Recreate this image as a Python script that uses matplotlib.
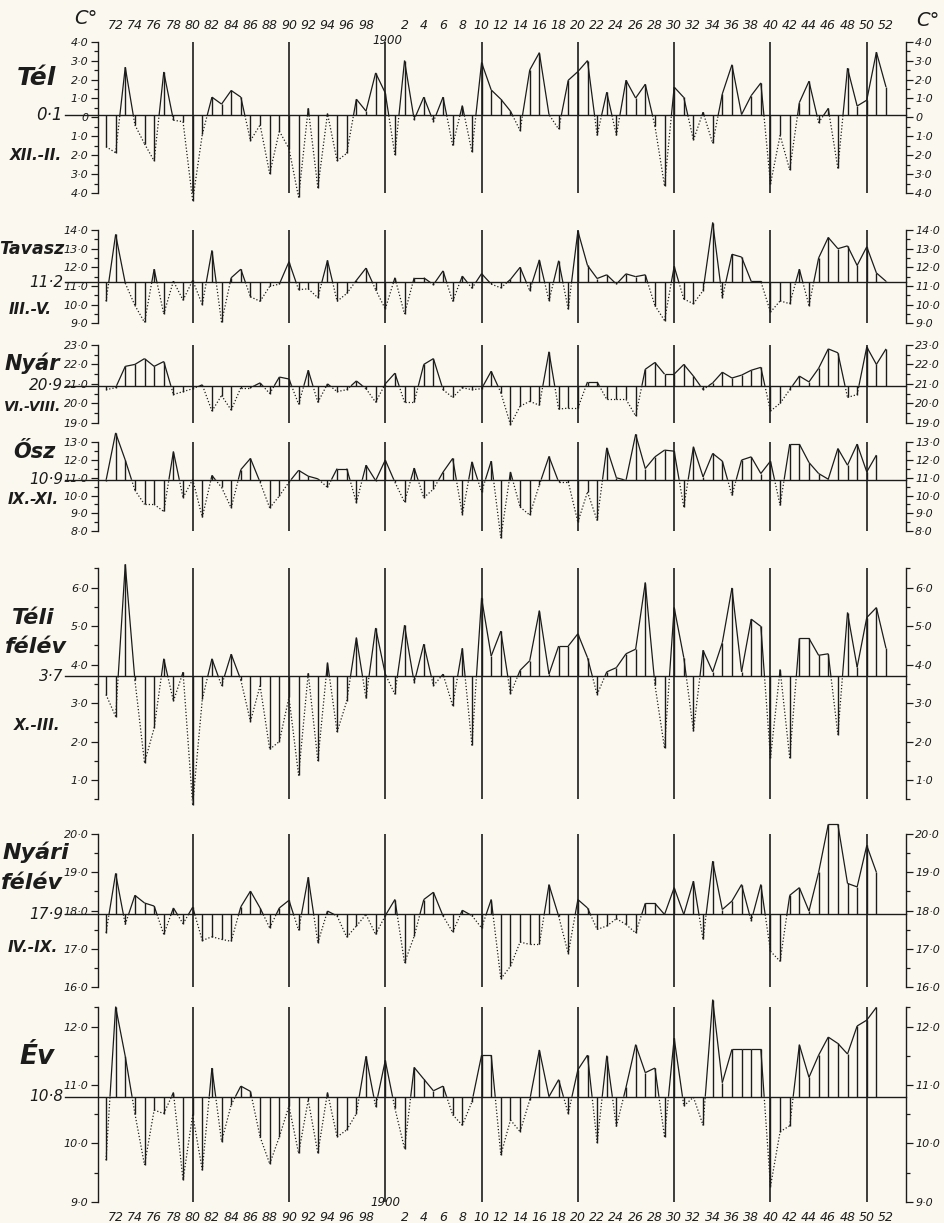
import matplotlib
matplotlib.use("Agg")
import matplotlib.pyplot as plt
from matplotlib.collections import LineCollection
from matplotlib.ticker import FixedLocator, FuncFormatter
import numpy as np

# ---------------- data ----------------
years_full = list(range(1871, 1953))      # 1871-1952
years_short = list(range(1871, 1952))     # 1871-1951

tel = [-1.55, -1.87, 2.65, -0.4, -1.4, -2.3, 2.4, -0.15, -0.23, -4.4,
       -0.9, 1.07, 0.7, 1.42, 1.07, -1.23, -0.4, -2.98, -0.73, -1.65,
       -4.23, 0.47, -3.73, 0.2, -2.3, -1.9, 0.96, 0.33, 2.35, 1.29,
       -1.98, 3.0, -0.12, 1.07, -0.23, 1.07, -1.48, 0.62, -1.82, 2.9,
       1.45, 0.96, 0.33, -0.7, 2.5, 3.42, 0.15, -0.62, 1.96, 2.42,
       3.0, -0.95, 1.33, -0.95, 1.96, 1.02, 1.75, -0.45, -3.62, 1.6,
       1.05, -1.2, 0.27, -1.37, 1.24, 2.78, 0.15, 1.15, 1.82, -3.53,
       -0.95, -2.78, 0.78, 1.91, -0.28, 0.47, -2.7, 2.6, 0.6, 0.91,
       3.45, 1.6]

tavasz = [10.18, 13.76, 11.15, 9.96, 9.05, 11.9, 9.5, 11.26, 10.24, 11.3,
          10.0, 12.9, 9.05, 11.44, 11.9, 10.42, 10.18, 10.98, 11.1, 12.3,
          10.8, 10.85, 10.37, 12.37, 10.18, 10.6, 11.3, 11.96, 10.8, 9.77,
          11.44, 9.5, 11.44, 11.44, 11.07, 11.81, 10.18, 11.53, 10.88, 11.66,
          11.1, 10.9, 11.35, 12.0, 10.75, 12.4, 10.2, 12.35, 9.75, 13.95,
          12.1, 11.4, 11.6, 11.1, 11.65, 11.5, 11.6, 9.95, 9.15, 12.05,
          10.3, 10.05, 10.75, 14.4, 10.35, 12.7, 12.55, 11.25, 11.25, 9.6,
          10.2, 10.05, 11.9, 9.95, 12.5, 13.6, 13.0, 13.15, 12.1, 13.1,
          11.7, 11.25]

nyar = [20.7, 20.8, 21.9, 22.0, 22.3, 21.9, 22.15, 20.45, 20.6, 20.75,
        20.95, 19.6, 20.4, 19.65, 20.8, 20.8, 21.05, 20.5, 21.35, 21.25,
        19.95, 21.7, 20.05, 21.0, 20.6, 20.7, 21.15, 20.75, 20.05, 21.0,
        21.55, 20.05, 20.05, 22.0, 22.3, 20.7, 20.3, 20.8, 20.7, 20.75,
        21.65, 20.55, 18.9, 19.85, 20.1, 19.9, 22.65, 19.7, 19.75, 19.75,
        21.1, 21.1, 20.2, 20.2, 20.2, 19.35, 21.75, 22.1, 21.5, 21.5,
        22.0, 21.4, 20.7, 21.05, 21.6, 21.3, 21.45, 21.7, 21.85, 19.6,
        20.0, 20.7, 21.4, 21.1, 21.8, 22.8, 22.6, 20.3, 20.45, 22.9,
        22.0, 22.8]

osz = [10.84, 13.53, 12.0, 10.3, 9.5, 9.5, 9.1, 12.48, 9.88, 10.9,
       8.77, 11.13, 10.46, 9.3, 11.46, 12.09, 10.75, 9.3, 9.98, 10.75,
       11.42, 11.09, 10.94, 10.46, 11.52, 11.52, 9.6, 11.71, 10.84, 12.0,
       10.75, 9.63, 11.55, 9.88, 10.36, 11.32, 12.09, 8.92, 11.9, 10.2,
       11.94, 7.6, 11.33, 9.35, 8.9, 10.6, 12.2, 10.77, 10.77, 8.5,
       10.2, 8.6, 12.69, 11.0, 10.86, 13.45, 11.52, 12.18, 12.56, 12.5,
       9.35, 12.75, 11.05, 12.37, 11.94, 10.01, 12.0, 12.18, 11.24, 11.94,
       9.45, 12.9, 12.9, 11.86, 11.24, 10.92, 12.65, 11.71, 12.9, 11.33,
       12.28]

teli_felev = [3.22, 2.65, 6.6, 3.6, 1.45, 2.35, 4.15, 3.05, 3.8, 0.35,
              3.1, 4.15, 3.45, 4.27, 3.6, 2.52, 3.45, 1.8, 2.0, 3.15,
              1.12, 3.77, 1.5, 4.05, 2.25, 3.05, 4.7, 3.12, 4.95, 3.75,
              3.23, 5.02, 3.53, 4.53, 3.45, 3.75, 2.93, 4.42, 1.9, 5.73,
              4.22, 4.87, 3.24, 3.85, 4.1, 5.4, 3.75, 4.48, 4.48, 4.8,
              4.18, 3.22, 3.81, 3.92, 4.28, 4.4, 6.13, 3.48, 1.83, 5.48,
              4.18, 2.27, 4.37, 3.81, 4.57, 5.99, 3.81, 5.18, 4.99, 1.57,
              3.87, 1.57, 4.68, 4.68, 4.24, 4.28, 2.18, 5.35, 3.93, 5.22,
              5.48, 4.42]

nyari_felev = [17.42, 18.97, 17.64, 18.4, 18.2, 18.12, 17.38, 18.07, 17.66, 18.09,
               17.22, 17.32, 17.25, 17.2, 18.1, 18.51, 18.07, 17.55, 18.07, 18.27,
               17.49, 18.87, 17.16, 17.99, 17.86, 17.31, 17.6, 17.9, 17.38, 17.87,
               18.29, 16.64, 17.33, 18.29, 18.48, 17.86, 17.44, 18.01, 17.87, 17.55,
               18.29, 16.22, 16.55, 17.18, 17.12, 17.12, 18.68, 17.86, 16.88, 18.29,
               18.07, 17.51, 17.6, 17.79, 17.64, 17.42, 18.19, 18.19, 17.9, 18.6,
               17.9, 18.77, 17.25, 19.29, 18.03, 18.25, 18.68, 17.73, 18.68, 16.94,
               16.68, 18.4, 18.6, 17.99, 19.0, 20.25, 20.25, 18.71, 18.62, 19.7,
               19.0]

ev = [9.71, 12.34, 11.49, 10.51, 9.63, 10.57, 10.51, 10.87, 9.37, 10.49,
      9.54, 11.29, 10.03, 10.66, 10.98, 10.89, 10.11, 9.65, 10.11, 10.64,
      9.83, 10.74, 9.83, 10.87, 10.11, 10.23, 10.51, 11.49, 10.63, 11.42,
      10.6, 9.91, 11.3, 11.1, 10.9, 10.98, 10.49, 10.31, 10.71, 11.51,
      11.51, 9.8, 10.4, 10.2, 10.74, 11.6, 10.8, 11.09, 10.51, 11.26,
      11.51, 10.01, 11.5, 10.29, 10.96, 11.69, 11.21, 11.29, 10.11, 11.8,
      10.64, 10.79, 10.31, 12.46, 11.04, 11.61, 11.61, 11.61, 11.61, 9.26,
      10.2, 10.3, 11.69, 11.13, 11.51, 11.82, 11.71, 11.53, 12.01, 12.11,
      12.33]

means = [0.1, 11.2, 20.9, 10.9, 3.7, 17.9, 10.8]
mean_labels = ["0·1", "11·2", "20·9", "10·9", "3·7", "17·9", "10·8"]
decades = [1880, 1890, 1900, 1910, 1920, 1930, 1940, 1950]
year_ticks = [1872, 1874, 1876, 1878, 1880, 1882, 1884, 1886, 1888, 1890,
              1892, 1894, 1896, 1898, 1902, 1904, 1906, 1908, 1910,
              1912, 1914, 1916, 1918, 1920, 1922, 1924, 1926, 1928, 1930,
              1932, 1934, 1936, 1938, 1940, 1942, 1944, 1946, 1948, 1950, 1952]
year_tick_labels = ["72", "74", "76", "78", "80", "82", "84", "86", "88", "90",
                    "92", "94", "96", "98", "2", "4", "6", "8", "10",
                    "12", "14", "16", "18", "20", "22", "24", "26", "28", "30",
                    "32", "34", "36", "38", "40", "42", "44", "46", "48", "50", "52"]

# ---------------- style ----------------
W, H = 944, 1223
BG = "#fbf9ef"
INK = "#1c1c1c"
plt.rcParams["font.family"] = ["DejaVu Sans"]

fig = plt.figure(figsize=(W / 100, H / 100), dpi=100, facecolor=BG)

X_LEFT, X_RIGHT = 97.7, 906.0
X0_PX, PX_PER_YEAR = 106.0, 9.63
xlim = (1871 - (X0_PX - X_LEFT) / PX_PER_YEAR, 1871 + (X_RIGHT - X0_PX) / PX_PER_YEAR)


def px_axes(top, bottom):
    return fig.add_axes([X_LEFT / W, 1 - bottom / H, (X_RIGHT - X_LEFT) / W, (bottom - top) / H])


def fmt(v, pos=None):
    if abs(v) < 1e-9:
        return "0"
    return f"{abs(v):.1f}".replace(".", "·")


# panel geometry: (series, years, top value, top px, bottom value, bottom px, major ticks)
panels = [
    (tel, years_full, 4.0, 41.7, -4.0, 193.0, [-4, -3, -2, -1, 0, 1, 2, 3, 4]),
    (tavasz, years_full, 14.0, 230.0, 9.0, 323.3, [9, 10, 11, 12, 13, 14]),
    (nyar, years_full, 23.0, 345.0, 19.0, 422.7, [19, 20, 21, 22, 23]),
    (osz, years_short, 13.0, 442.3, 8.0, 531.0, [8, 9, 10, 11, 12, 13]),
    (teli_felev, years_full, 6.5, 568.3, 0.5, 799.3, [1, 2, 3, 4, 5, 6]),
    (nyari_felev, years_short, 20.0, 834.0, 16.0, 987.3, [16, 17, 18, 19, 20]),
    (ev, years_short, 12.33, 1007.3, 9.0, 1201.7, [9, 10, 11, 12]),
]

axes = []
for i, (vals, yrs, tv, tp, bv, bp, majors) in enumerate(panels):
    ax = px_axes(tp, bp)
    ax.set_facecolor("none")
    ax.set_xlim(*xlim)
    ax.set_ylim(bv, tv)
    for s in ("top", "bottom"):
        ax.spines[s].set_visible(False)
    for s in ("left", "right"):
        ax.spines[s].set_color(INK)
        ax.spines[s].set_linewidth(1.0)
    ax.yaxis.set_major_locator(FixedLocator(majors))
    minors = [v for v in np.arange(np.floor(bv), np.ceil(tv) + 0.01, 0.5)
              if bv - 1e-6 <= v <= tv + 1e-6 and v not in majors]
    minors += [tv, bv]
    ax.yaxis.set_minor_locator(FixedLocator(sorted(set(minors))))
    ax.yaxis.set_major_formatter(FuncFormatter(fmt))
    ax.tick_params(axis="y", which="both", direction="out", left=True, right=True,
                   labelleft=True, labelright=True, colors=INK, width=0.9)
    ax.tick_params(axis="y", which="major", length=5, pad=1.5, labelsize=8)
    ax.tick_params(axis="y", which="minor", length=3)
    for lbl in ax.get_yticklabels():
        lbl.set_fontstyle("italic")
    ax.tick_params(axis="x", length=0, bottom=False, labelbottom=False)
    ax.set_xticks([])

    b = means[i]
    # decade lines
    for d in decades:
        ax.axvline(d, color=INK, lw=1.2, zorder=1)
    # baseline
    ax.plot([-0.04, 1.0], [b, b], color=INK, lw=1.0,
            transform=ax.get_yaxis_transform(), clip_on=False, zorder=2)

    x = np.array(yrs, dtype=float)
    y = np.array(vals, dtype=float)
    # stems
    ax.vlines(x, b, y, color=INK, lw=1.0, clip_on=False, zorder=3)
    # connecting polyline: solid above mean, dotted below
    solid, dotted = [], []
    for k in range(len(x) - 1):
        x0, y0, x1, y1 = x[k], y[k], x[k + 1], y[k + 1]
        a0, a1 = y0 >= b, y1 >= b
        if a0 == a1:
            (solid if a0 else dotted).append([(x0, y0), (x1, y1)])
        else:
            t = (b - y0) / (y1 - y0)
            xc = x0 + t * (x1 - x0)
            (solid if a0 else dotted).append([(x0, y0), (xc, b)])
            (solid if a1 else dotted).append([(xc, b), (x1, y1)])
    lc1 = LineCollection(solid, colors=INK, linewidths=0.9, clip_on=False, zorder=3)
    lc2 = LineCollection(dotted, colors=INK, linewidths=0.9, linestyles=[(0, (1.0, 1.6))],
                         clip_on=False, zorder=3)
    ax.add_collection(lc1)
    ax.add_collection(lc2)

    # mean label left of baseline
    ax.text(-0.043, b, mean_labels[i], transform=ax.get_yaxis_transform(),
            ha="right", va="center", fontsize=11 if i else 12, fontstyle="italic", color=INK)
    axes.append(ax)

# year labels top and bottom
top_ax, bot_ax = axes[0], axes[-1]
for ax, where in ((top_ax, "top"), (bot_ax, "bottom")):
    ax.set_xticks(year_ticks)
    ax.set_xticklabels(year_tick_labels, fontsize=9, fontstyle="italic", color=INK)
    if where == "top":
        ax.tick_params(axis="x", top=False, bottom=False, labeltop=True, labelbottom=False,
                       length=0, pad=7)
    else:
        ax.tick_params(axis="x", top=False, bottom=False, labeltop=False, labelbottom=True,
                       length=0, pad=7)

top_h = 193.0 - 41.7
bot_h = 1201.7 - 1007.3
top_ax.text(1900.2, 1.0 + (41.7 - 33.5) / top_h, "1900", transform=top_ax.get_xaxis_transform(),
            ha="center", va="top", fontsize=8.5, fontstyle="italic", color=INK, clip_on=False)
bot_ax.text(1900.0, -(1209.0 - 1201.7) / bot_h, "1900", transform=bot_ax.get_xaxis_transform(),
            ha="center", va="bottom", fontsize=8.5, fontstyle="italic", color=INK, clip_on=False)


# panel titles (figure pixel placement)
def ftext(x, y, s, size, bold=True, **kw):
    fig.text(x / W, 1 - y / H, s, fontsize=size, fontstyle="italic",
             fontweight="bold" if bold else "normal", color=INK,
             ha=kw.pop("ha", "center"), va=kw.pop("va", "center"), **kw)


ftext(86, 19, "C°", 14, bold=False)
ftext(928, 21, "C°", 14, bold=False)

ftext(36, 78, "Tél", 18)
ftext(36, 155, "XII.-II.", 11)
ftext(32, 249, "Tavasz", 12.5)
ftext(30, 310, "III.-V.", 11)
ftext(32, 363, "Nyár", 15)
ftext(33, 407, "VI.-VIII.", 10)
ftext(34, 452, "Ősz", 15)
ftext(33, 500, "IX.-XI.", 11)
ftext(33, 618, "Téli", 16)
ftext(36, 647, "félév", 16)
ftext(37, 725, "X.-III.", 11)
ftext(36, 852, "Nyári", 16)
ftext(32, 883, "félév", 16)
ftext(33, 948, "IV.-IX.", 11)
ftext(37, 1057, "Év", 19)

fig.savefig("out.png", dpi=100, facecolor=BG)
